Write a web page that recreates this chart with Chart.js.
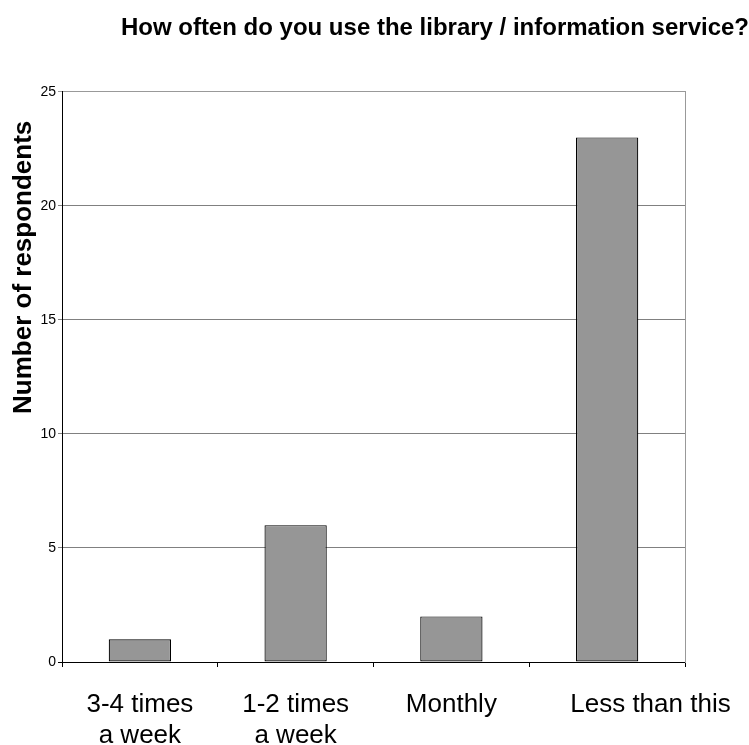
<!DOCTYPE html>
<html>
<head>
<meta charset="utf-8">
<script src="https://cdn.jsdelivr.net/npm/chart.js@4.4.0/dist/chart.umd.min.js"></script>
<style>
  html, body { margin: 0; padding: 0; background: #fff; }
  #wrap { width: 749px; height: 745px; }
</style>
</head>
<body>
<div id="wrap"><canvas id="c" width="749" height="745"></canvas></div>
<script>
const titleText = 'How often do you use the library / information service?';
const yAxisTitle = 'Number of respondents';
const categories = [['3-4 times', 'a week'], ['1-2 times', 'a week'], 'Monthly', 'Less than this'];
const respondents = [1, 6, 2, 23];
const yTicks = [0, 5, 10, 15, 20, 25];

const FONT = '"Liberation Sans", Arial, sans-serif';

new Chart(document.getElementById('c'), {
  type: 'bar',
  data: {
    labels: categories,
    datasets: [{
      data: respondents,
      backgroundColor: '#969696',
      borderColor: '#000000',
      borderWidth: 1.2,
      borderSkipped: false,
      barPercentage: 0.4,
      categoryPercentage: 1.0
    }]
  },
  options: {
    responsive: false,
    animation: false,
    devicePixelRatio: 1,
    layout: { padding: { top: 0, left: 0, right: 0, bottom: 0 } },
    plugins: {
      legend: { display: false },
      tooltip: { enabled: false },
      title: {
        display: true,
        text: titleText,
        align: 'end',
        color: '#000',
        font: { family: FONT, size: 24, weight: 'bold' },
        padding: { top: 14, bottom: 49 }
      }
    },
    scales: {
      x: {
        type: 'category',
        grid: { display: true, drawOnChartArea: false, offset: true, tickLength: 5, color: '#000', lineWidth: 1 },
        border: { display: true, color: '#000', width: 1 },
        ticks: {
          color: '#000',
          font: { family: FONT, size: 26 },
          padding: 22,
          maxRotation: 0,
          autoSkip: false,
          callback: function (value, index) {
            const lbl = categories[index];
            if (index === categories.length - 1) return ' '.repeat(12) + lbl;
            return lbl;
          }
        },
        afterFit: function (s) { s.height = 83; s.paddingLeft = 0; s.paddingRight = 0; }
      },
      y: {
        type: 'linear',
        min: yTicks[0],
        max: yTicks[yTicks.length - 1],
        afterBuildTicks: function (s) { s.ticks = yTicks.map(v => ({ value: v })); },
        grid: {
          tickLength: 4,
          lineWidth: 1,
          color: function (ctx) {
            const v = ctx.tick ? ctx.tick.value : null;
            if (v === 25) return '#999999';
            if (v === 0) return '#000000';
            return '#808080';
          }
        },
        border: { display: true, color: '#000', width: 1 },
        ticks: { color: '#000', font: { family: FONT, size: 14 }, padding: 2 },
        title: {
          display: true,
          text: yAxisTitle + ' '.repeat(4),
          align: 'end',
          color: '#000',
          font: { family: FONT, size: 26, weight: 'bold' },
          padding: { top: 8, bottom: 0 }
        },
        afterFit: function (s) { s.width = 62; s.paddingTop = 0; s.paddingBottom = 0; }
      },
      yRight: {
        type: 'linear',
        position: 'right',
        min: 0,
        max: 25,
        display: true,
        grid: { display: false },
        ticks: { display: false },
        border: { display: true, color: '#999999', width: 1 },
        afterFit: function (s) { s.width = 64; s.paddingTop = 0; s.paddingBottom = 0; }
      }
    }
  }
});
</script>
</body>
</html>
